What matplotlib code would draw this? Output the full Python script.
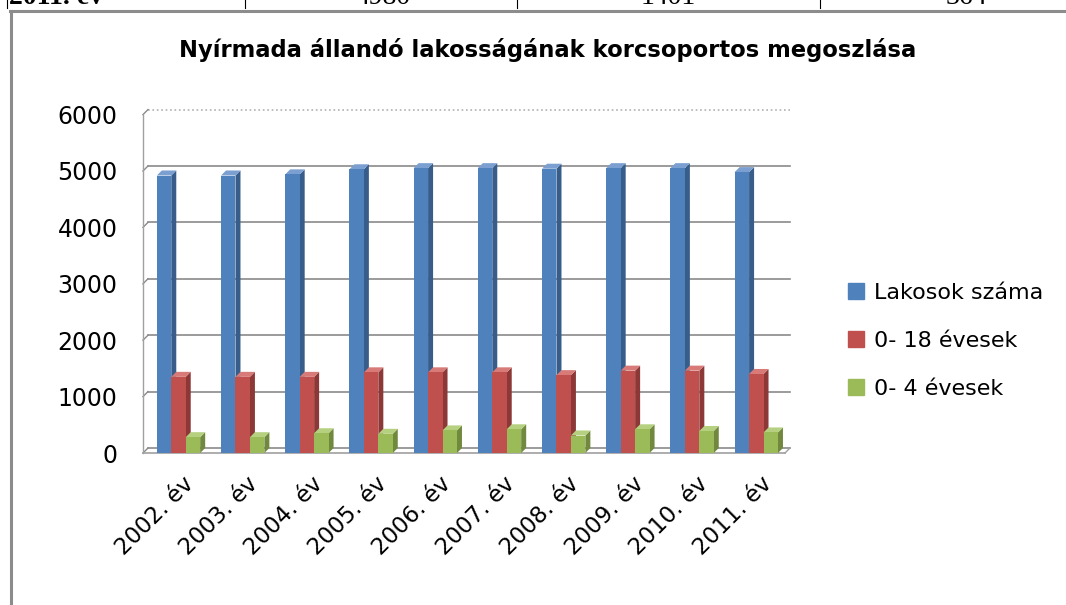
import matplotlib.pyplot as plt
import numpy as np
from matplotlib.patches import Polygon, Patch
from matplotlib.lines import Line2D
from matplotlib.transforms import ScaledTranslation

# cut-off table row above the chart
table_row = ['2011. év', '4980', '1401', '364']

# chart data
years = ['2002. év', '2003. év', '2004. év', '2005. év', '2006. év',
         '2007. év', '2008. év', '2009. év', '2010. év', '2011. év']
lakosok = [4920, 4920, 4940, 5030, 5050, 5050, 5040, 5050, 5050, 4980]
ifjak = [1350, 1350, 1350, 1430, 1430, 1430, 1380, 1460, 1460, 1401]
kicsik = [280, 280, 350, 340, 400, 420, 310, 420, 390, 364]
series_names = ['Lakosok száma', '0- 18 évesek', '0- 4 évesek']

front = ['#4F81BD', '#C0504D', '#9BBB59']
side = ['#385D8A', '#8C3836', '#71893F']
top = ['#7A9FD0', '#D77A78', '#B5D07E']

W, H = 1066, 605
fig = plt.figure(figsize=(W / 100, H / 100), dpi=100)

# document frame and the remains of the table above
frame_c = '#8c8c8c'
fig.add_artist(Line2D([10 / W, 1], [1 - 11 / H] * 2, color=frame_c, lw=2.2))
fig.add_artist(Line2D([11 / W] * 2, [0, 1 - 11 / H], color=frame_c, lw=2.2))
col_x = [9, 383, 668, 966]
for i, (txt, cx) in enumerate(zip(table_row, col_x)):
    fig.text(cx / W, 1 - 4 / H, txt, ha='left' if i == 0 else 'center',
             va='baseline', fontsize=20, family='Liberation Serif',
             fontweight='bold' if i == 0 else 'normal')
for sx in [7, 245, 517, 820]:
    fig.add_artist(Line2D([sx / W] * 2, [1 - 8 / H, 1], color='black', lw=0.8))

fig.text(548 / W, 1 - 50 / H, 'Nyírmada állandó lakosságának korcsoportos megoszlása',
         ha='center', va='center', fontsize=16.3, fontweight='bold')

ax = fig.add_axes([148 / W, 1 - 460 / H, 642 / W, 355 / H])
x0, x1 = -0.475, 9.525
ax.set_xlim(x0, x1)
ax.set_ylim(-124, 6170)
for s in ax.spines.values():
    s.set_visible(False)

dx, dy = 0.078, 89  # 3d depth offsets (data units)
grid_c = '#8a8a8a'

# back wall grid, left wall and floor
for v in range(0, 7000, 1000):
    ls = ':' if v == 6000 else '-'
    c = '#b0b0b0' if v == 6000 else grid_c
    ax.plot([x0, x1], [v + dy, v + dy], color=c, lw=1.2, ls=ls, zorder=0, clip_on=False)
    ax.plot([x0 - dx, x0], [v, v + dy], color=grid_c, lw=1, zorder=0, clip_on=False)
ax.plot([x0 - dx, x0 - dx], [0, 6000], color='#a0a0a0', lw=1, zorder=0, clip_on=False)
ax.plot([x0 - dx, x1 - dx], [0, 0], color='#a0a0a0', lw=1.2, zorder=0, clip_on=False)
ax.plot([x1 - dx, x1], [0, dy], color='#a0a0a0', lw=1, zorder=0, clip_on=False)

x = np.arange(len(years))
w = 0.225
for k, vals in enumerate([lakosok, ifjak, kicsik]):
    off = (k - 1) * w
    ax.bar(x + off, vals, width=w, color=front[k], zorder=3 + 2 * k)
    for xi, v in zip(x, vals):
        l, r = xi + off - w / 2, xi + off + w / 2
        ax.add_patch(Polygon([(r, 0), (r + dx, dy), (r + dx, v + dy), (r, v)],
                             closed=True, color=side[k], lw=0, zorder=2 + 2 * k))
        ax.add_patch(Polygon([(l, v), (l + dx, v + dy), (r + dx, v + dy), (r, v)],
                             closed=True, color=top[k], lw=0, zorder=2 + 2 * k))

ax.set_yticks(range(0, 7000, 1000))
ax.set_yticklabels([str(v) for v in range(0, 7000, 1000)], fontsize=17)
ax.tick_params(axis='y', length=0, pad=22)
ax.set_xticks(x)
ax.set_xticklabels(years, rotation=45, ha='right', va='center',
                   rotation_mode='anchor', fontsize=16.5)
ax.tick_params(axis='x', length=0, pad=15)
for lab in ax.get_xticklabels():
    lab.set_transform(lab.get_transform() + ScaledTranslation(12 / 100, 0, fig.dpi_scale_trans))

handles = [Patch(color=c) for c in front]
fig.legend(handles, series_names, loc='center left',
           bbox_to_anchor=(848 / W, 1 - 341 / H), frameon=False, fontsize=16,
           handlelength=0.72, handleheight=0.72, handletextpad=0.45,
           labelspacing=1.26, borderpad=0, borderaxespad=0)

fig.savefig('out.png', dpi=100)
